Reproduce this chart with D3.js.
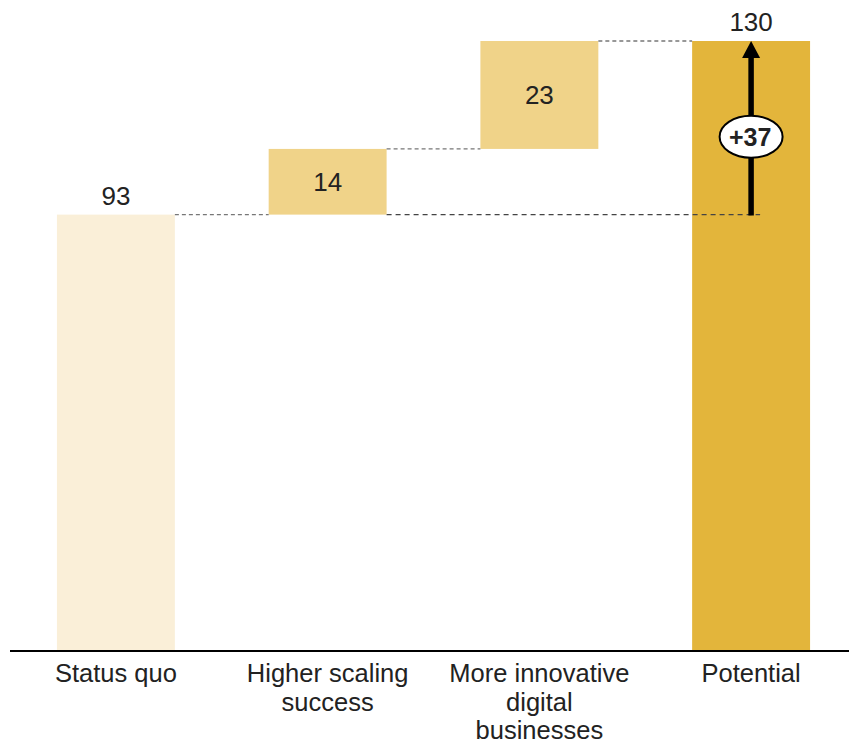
<!DOCTYPE html>
<html>
<head>
<meta charset="utf-8">
<script src="https://cdn.jsdelivr.net/npm/d3@7"></script>
<style>
  html, body { margin: 0; padding: 0; background: #ffffff; }
  svg { display: block; }
  text { font-family: "Liberation Sans", Arial, sans-serif; fill: #222222; }
</style>
</head>
<body>
<svg id="chart" width="849" height="744"></svg>
<script>
// Waterfall: from the status quo to the potential
const categories = ["Status quo", "Higher scaling success", "More innovative digital businesses", "Potential"];
const categoryLines = [["Status quo"], ["Higher scaling", "success"], ["More innovative", "digital", "businesses"], ["Potential"]];
const values = [93, 14, 23, 130];
const kinds = ["total", "delta", "delta", "total"];
const upliftLabel = "+37";
const colors = { first: "#FAEFD8", delta: "#F0D389", last: "#E3B53B" };

const svg = d3.select("#chart");
const baseY = 651;

const x = d3.scaleBand()
  .domain(categories)
  .range([4, 863])
  .paddingInner(0.443)
  .paddingOuter(0.25);

const y = d3.scaleLinear()
  .domain([0, 130])
  .range([baseY, 41]);

// Running totals give each bar its start and end
let running = 0;
const bars = categories.map((c, i) => {
  let lo, hi;
  if (kinds[i] === "total") { lo = 0; hi = values[i]; running = values[i]; }
  else { lo = running; hi = running + values[i]; running = hi; }
  return { cat: c, value: values[i], lo, hi, i };
});

const fillFor = d => d.i === 0 ? colors.first : (kinds[d.i] === "delta" ? colors.delta : colors.last);

svg.append("g").selectAll("rect")
  .data(bars)
  .join("rect")
  .attr("x", d => x(d.cat))
  .attr("width", x.bandwidth())
  .attr("y", d => y(d.hi))
  .attr("height", d => y(d.lo) - y(d.hi))
  .attr("fill", fillFor);

// Dashed connectors between consecutive bars
const conn = svg.append("g").attr("fill", "none").attr("stroke-width", 1.4).attr("stroke-dasharray", "4,3");
for (let k = 0; k < bars.length - 1; k++) {
  const a = bars[k], b = bars[k + 1];
  conn.append("line")
    .attr("x1", x(a.cat) + x.bandwidth())
    .attr("x2", x(b.cat))
    .attr("y1", y(a.hi)).attr("y2", y(a.hi))
    .attr("stroke", "#777777");
}

// Starting level carried across to the uplift arrow
const arrowX = x(categories[3]) + x.bandwidth() / 2;
conn.append("line")
  .attr("x1", x(categories[1]) + x.bandwidth())
  .attr("x2", arrowX + 9)
  .attr("y1", y(values[0])).attr("y2", y(values[0]))
  .attr("stroke", "#444444")
  .attr("stroke-dasharray", "5,4");

// Value labels: totals above, deltas inside
svg.append("g").selectAll("text")
  .data(bars)
  .join("text")
  .attr("x", d => x(d.cat) + x.bandwidth() / 2)
  .attr("y", d => kinds[d.i] === "total" ? y(d.hi) - 10 : (y(d.lo) + y(d.hi)) / 2 + 9)
  .attr("text-anchor", "middle")
  .attr("font-size", 26)
  .text(d => d.value);

// Uplift arrow across the final bar
const arrowTop = y(values[3]);
const arrowBottom = y(values[0]);
svg.append("line")
  .attr("x1", arrowX).attr("x2", arrowX)
  .attr("y1", arrowBottom + 1).attr("y2", arrowTop + 14)
  .attr("stroke", "#000").attr("stroke-width", 5.5);
svg.append("path")
  .attr("d", `M${arrowX},${arrowTop} L${arrowX - 9},${arrowTop + 17} L${arrowX + 9},${arrowTop + 17} Z`)
  .attr("fill", "#000");

const midY = y(109.6);
svg.append("ellipse")
  .attr("cx", arrowX).attr("cy", midY)
  .attr("rx", 31.5).attr("ry", 21)
  .attr("fill", "#fff").attr("stroke", "#000").attr("stroke-width", 2);
svg.append("text")
  .attr("x", arrowX - 1).attr("y", midY + 9)
  .attr("text-anchor", "middle")
  .attr("font-size", 25).attr("font-weight", "bold")
  .text(upliftLabel);

// Baseline axis
svg.append("line")
  .attr("x1", 10).attr("x2", 849)
  .attr("y1", baseY).attr("y2", baseY)
  .attr("stroke", "#000").attr("stroke-width", 2);

// Category labels, wrapped onto several lines
const labels = svg.append("g").selectAll("text")
  .data(categories)
  .join("text")
  .attr("x", d => x(d) + x.bandwidth() / 2)
  .attr("y", 682)
  .attr("text-anchor", "middle")
  .attr("font-size", 25.5);
labels.each(function (d, i) {
  d3.select(this).selectAll("tspan")
    .data(categoryLines[i])
    .join("tspan")
    .attr("x", x(d) + x.bandwidth() / 2)
    .attr("dy", (t, j) => j === 0 ? 0 : 28.5)
    .text(t => t);
});
</script>
</body>
</html>
